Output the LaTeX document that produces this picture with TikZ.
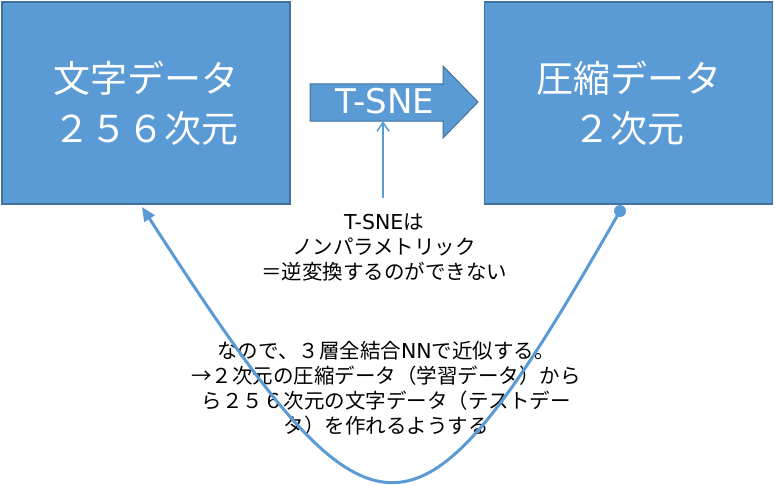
\documentclass[tikz,border=0pt]{standalone}
\usepackage{fontspec}
\setmainfont{Noto Sans CJK JP}
\newfontfamily\dv{DejaVu Sans}
\usetikzlibrary{arrows.meta}
\definecolor{boxfill}{HTML}{5B9BD5}
\definecolor{boxline}{HTML}{41719C}
\begin{document}
\begin{tikzpicture}[x=1pt,y=-1pt,
  databox/.style={draw=boxline,line width=1.5pt,fill=boxfill,minimum width=288pt,minimum height=202pt,inner sep=0pt,
    text=white,align=center,font=\fontsize{37}{50}\selectfont},
  notetext/.style={align=center,font=\fontsize{20.5}{25}\selectfont,text=black,inner sep=0pt},
  link/.style={draw=boxfill,line width=1.5pt}]
\useasboundingbox (0,0) rectangle (775,484);
\node[databox] (src) at (146,103) {文字データ\\２５６次元};
\node[databox] (dst) at (628.5,103) {圧縮データ\\２次元};
\path[fill=boxfill,draw=boxline,line width=1pt] (310,84) -- (443,84) -- (443,66) -- (478,102) -- (443,138) -- (443,121) -- (310,121) -- cycle;
\node[text=white,font=\dv\fontsize{34}{40}\selectfont,inner sep=0pt] (tsne) at (385,101) {T-SNE};
\node[notetext] (note) at (384,247) {{\dv T-SNE}は\\ノンパラメトリック\\＝逆変換するのができない};
\node[notetext] (plan) at (386,388) {なので、３層全結合{\dv NN}で近似する。\\→２次元の圧縮データ（学習データ）から\\ら２５６次元の文字データ（テストデー\\タ）を作れるようする};
\coordinate (notetop) at (383,198);
\coordinate (arrowbot) at (383,121);
\draw[link,-{Straight Barb[length=9pt,width=12pt]}] (notetop) -- (arrowbot);
\coordinate (dstfoot) at (620,211);
\coordinate (srcfoot) at (142,207);
\fill[boxfill] (dstfoot) circle (6pt);
\draw[draw=boxfill,line width=3pt,-{Triangle[length=14pt,width=12pt]}] (dstfoot) .. controls (414,572) and (378,572) .. (srcfoot);
\end{tikzpicture}
\end{document}
